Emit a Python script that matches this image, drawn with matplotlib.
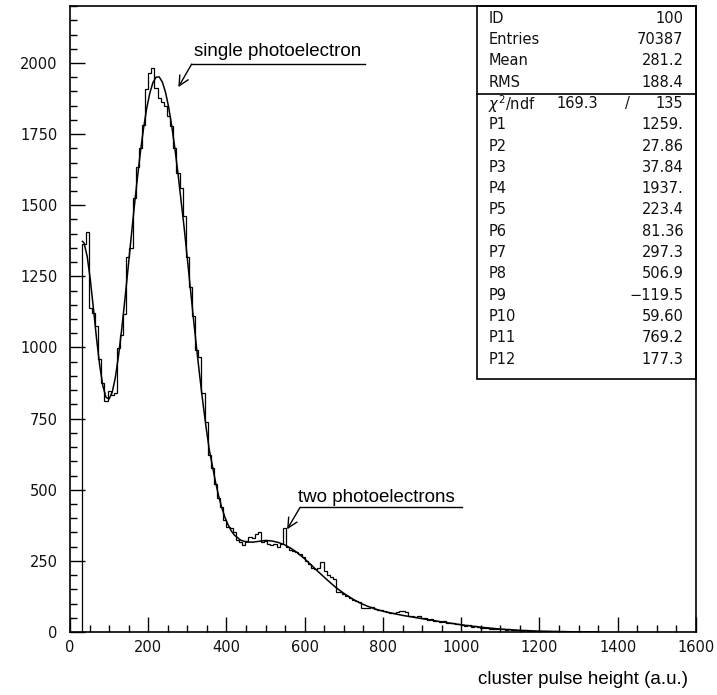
import numpy as np
import matplotlib
matplotlib.use("Agg")
import matplotlib.pyplot as plt
from matplotlib.ticker import MultipleLocator
from matplotlib.patches import Rectangle

# histogram: 8-unit bins starting at 32
bin_start = 32
bin_width = 8
counts = [
    1363, 1405, 1138, 1120, 1075, 958, 874, 812, 848, 833,
    841, 997, 1044, 1117, 1317, 1351, 1524, 1633, 1700, 1782,
    1907, 1966, 1981, 1911, 1876, 1864, 1849, 1814, 1779, 1700,
    1612, 1560, 1462, 1319, 1214, 1111, 991, 968, 839, 739,
    622, 575, 520, 470, 440, 395, 370, 365, 350, 325,
    315, 305, 320, 335, 330, 345, 350, 315, 320, 310,
    305, 310, 300, 310, 365, 300, 290, 285, 280, 275,
    265, 250, 240, 225, 220, 225, 247, 215, 200, 195,
    185, 140, 140, 132, 125, 120, 112, 110, 107, 86,
    85, 84, 88, 82, 78, 76, 74, 70, 68, 66,
    72, 74, 73, 70, 58, 56, 52, 55, 48, 50,
    44, 46, 40, 38, 36, 38, 33, 31, 30, 27,
    28, 24, 22, 23, 19, 20, 17, 15, 14, 15,
    12, 11, 12, 10, 9, 8, 9, 7, 6, 8,
    5, 6, 4, 5, 4, 3, 4, 3, 2, 3,
    2, 2, 1, 2, 1, 1, 1, 0, 1, 0,
    0, 1, 0, 0, 1, 0, 0, 0, 1, 0,
    0, 0, 0, 1, 0, 0, 0, 0, 0, 0,
    0, 1, 0, 0, 0, 0, 0, 0, 0, 0,
    0, 0, 0, 0, 0, 0,
]

# fitted curve
fit_x = [32, 36, 44, 52, 60, 68, 76, 84, 92, 100, 108, 116, 124, 132, 140,
         148, 156, 164, 172, 180, 188, 196, 204, 212, 220, 228, 236, 244,
         252, 260, 268, 276, 284, 292, 300, 308, 316, 324, 332, 340, 348,
         356, 364, 372, 380, 388, 396, 404, 412, 420, 436, 452, 468, 484,
         500, 516, 532, 548, 564, 580, 600, 620, 640, 660, 680, 700, 720,
         740, 760, 780, 800, 850, 900, 950, 1000, 1050, 1100, 1150, 1200,
         1250, 1300, 1350]
fit_y = [1373, 1367, 1320, 1238, 1136, 1030, 937, 865, 825, 819, 843, 895,
         970, 1062, 1164, 1272, 1382, 1490, 1592, 1687, 1770, 1840, 1894,
         1931, 1950, 1951, 1933, 1898, 1846, 1779, 1701, 1612, 1515, 1419,
         1312, 1204, 1096, 993, 895, 803, 718, 641, 584, 527, 478, 437, 403,
         377, 356, 341, 323, 316, 316, 319, 322, 320, 315, 307, 295, 280,
         257, 231, 205, 180, 156, 136, 118, 103, 91, 81, 73, 58.5, 47, 35.7,
         25.5, 17, 10.5, 5.9, 3.1, 1.5, 0.7, 0.3]

stats_labels = ["ID", "Entries", "Mean", "RMS"]
stats_values = ["100", "70387", "281.2", "188.4"]
chi2, ndf = "169.3", "135"
par_names = ["P%d" % i for i in range(1, 13)]
par_values = ["1259.", "27.86", "37.84", "1937.", "223.4", "81.36",
              "297.3", "506.9", "\u2212119.5", "59.60", "769.2", "177.3"]

edges = bin_start + bin_width * np.arange(len(counts) + 1)

fig = plt.figure(figsize=(7.17, 6.95), dpi=100)
ax = fig.add_axes([0.0976, 0.0906, 0.8731, 0.9007])

ax.stairs(counts, edges, baseline=0, color="black", lw=0.9)
ax.plot(fit_x, fit_y, color="black", lw=1.1)

ax.set_xlim(0, 1600)
ax.set_ylim(0, 2200)
ax.set_xticks(np.arange(0, 1601, 200))
ax.set_yticks(np.arange(0, 2001, 250))
ax.xaxis.set_minor_locator(MultipleLocator(50))
ax.yaxis.set_minor_locator(MultipleLocator(50))
ax.tick_params(which="both", direction="in", top=False, right=False,
               width=1, labelsize=10.5, colors="black", labelcolor="#111111")
ax.tick_params(which="major", length=11)
ax.tick_params(which="minor", length=5)
ax.tick_params(axis="y", pad=9)
ax.tick_params(axis="x", pad=6)
for s in ax.spines.values():
    s.set_linewidth(1.2)

# statistics box
box_l, box_b = 0.650, 0.404
ax.add_patch(Rectangle((box_l, box_b), 1 - box_l, 1 - box_b, transform=ax.transAxes,
                       fill=False, lw=1.2, ec="black", clip_on=False))
ax.plot([box_l, 1], [0.859, 0.859], transform=ax.transAxes, color="black", lw=1.2)

tx_l, tx_r = 0.668, 0.980
row_h = 21.3 / 626
row0 = (632 - 16.7) / 626
st = dict(transform=ax.transAxes, va="center_baseline", fontsize=10.5, color="#111111")
rows = list(zip(stats_labels, stats_values))
for i, (lab, val) in enumerate(rows):
    y = row0 - i * row_h
    ax.text(tx_l, y, lab, ha="left", **st)
    ax.text(tx_r, y, val, ha="right", **st)
y = row0 - 4 * row_h
ax.text(tx_l, y, r"$\chi^2$/ndf", ha="left", **st)
ax.text(0.8435, y, chi2, ha="right", **st)
ax.text(0.890, y, "/", ha="center", **st)
ax.text(tx_r, y, ndf, ha="right", **st)
for i, (lab, val) in enumerate(zip(par_names, par_values)):
    y = row0 - (5 + i) * row_h
    ax.text(tx_l, y, lab, ha="left", **st)
    ax.text(tx_r, y, val, ha="right", **st)

# annotations
afont = dict(family="Liberation Sans", size=13.5)
arrow = dict(arrowstyle="->,head_length=0.7,head_width=0.35", lw=1, color="black",
             shrinkA=0, shrinkB=0)

ax.text(318, 2025, "single photoelectron", ha="left", va="baseline", **afont)
ax.plot([311, 754], [1996, 1996], color="black", lw=1)
ax.annotate("", xy=(277, 1915), xytext=(311, 1996), arrowprops=arrow)

ax.text(583, 458, "two photoelectrons", ha="left", va="baseline", **afont)
ax.plot([588, 1002], [438, 438], color="black", lw=1)
ax.annotate("", xy=(555, 361), xytext=(588, 438), arrowprops=arrow)

fig.text(688 / 717, 1 - 680 / 695, "cluster pulse height (a.u.)", ha="right",
         va="center", **afont)

fig.savefig("out.png", dpi=100)
